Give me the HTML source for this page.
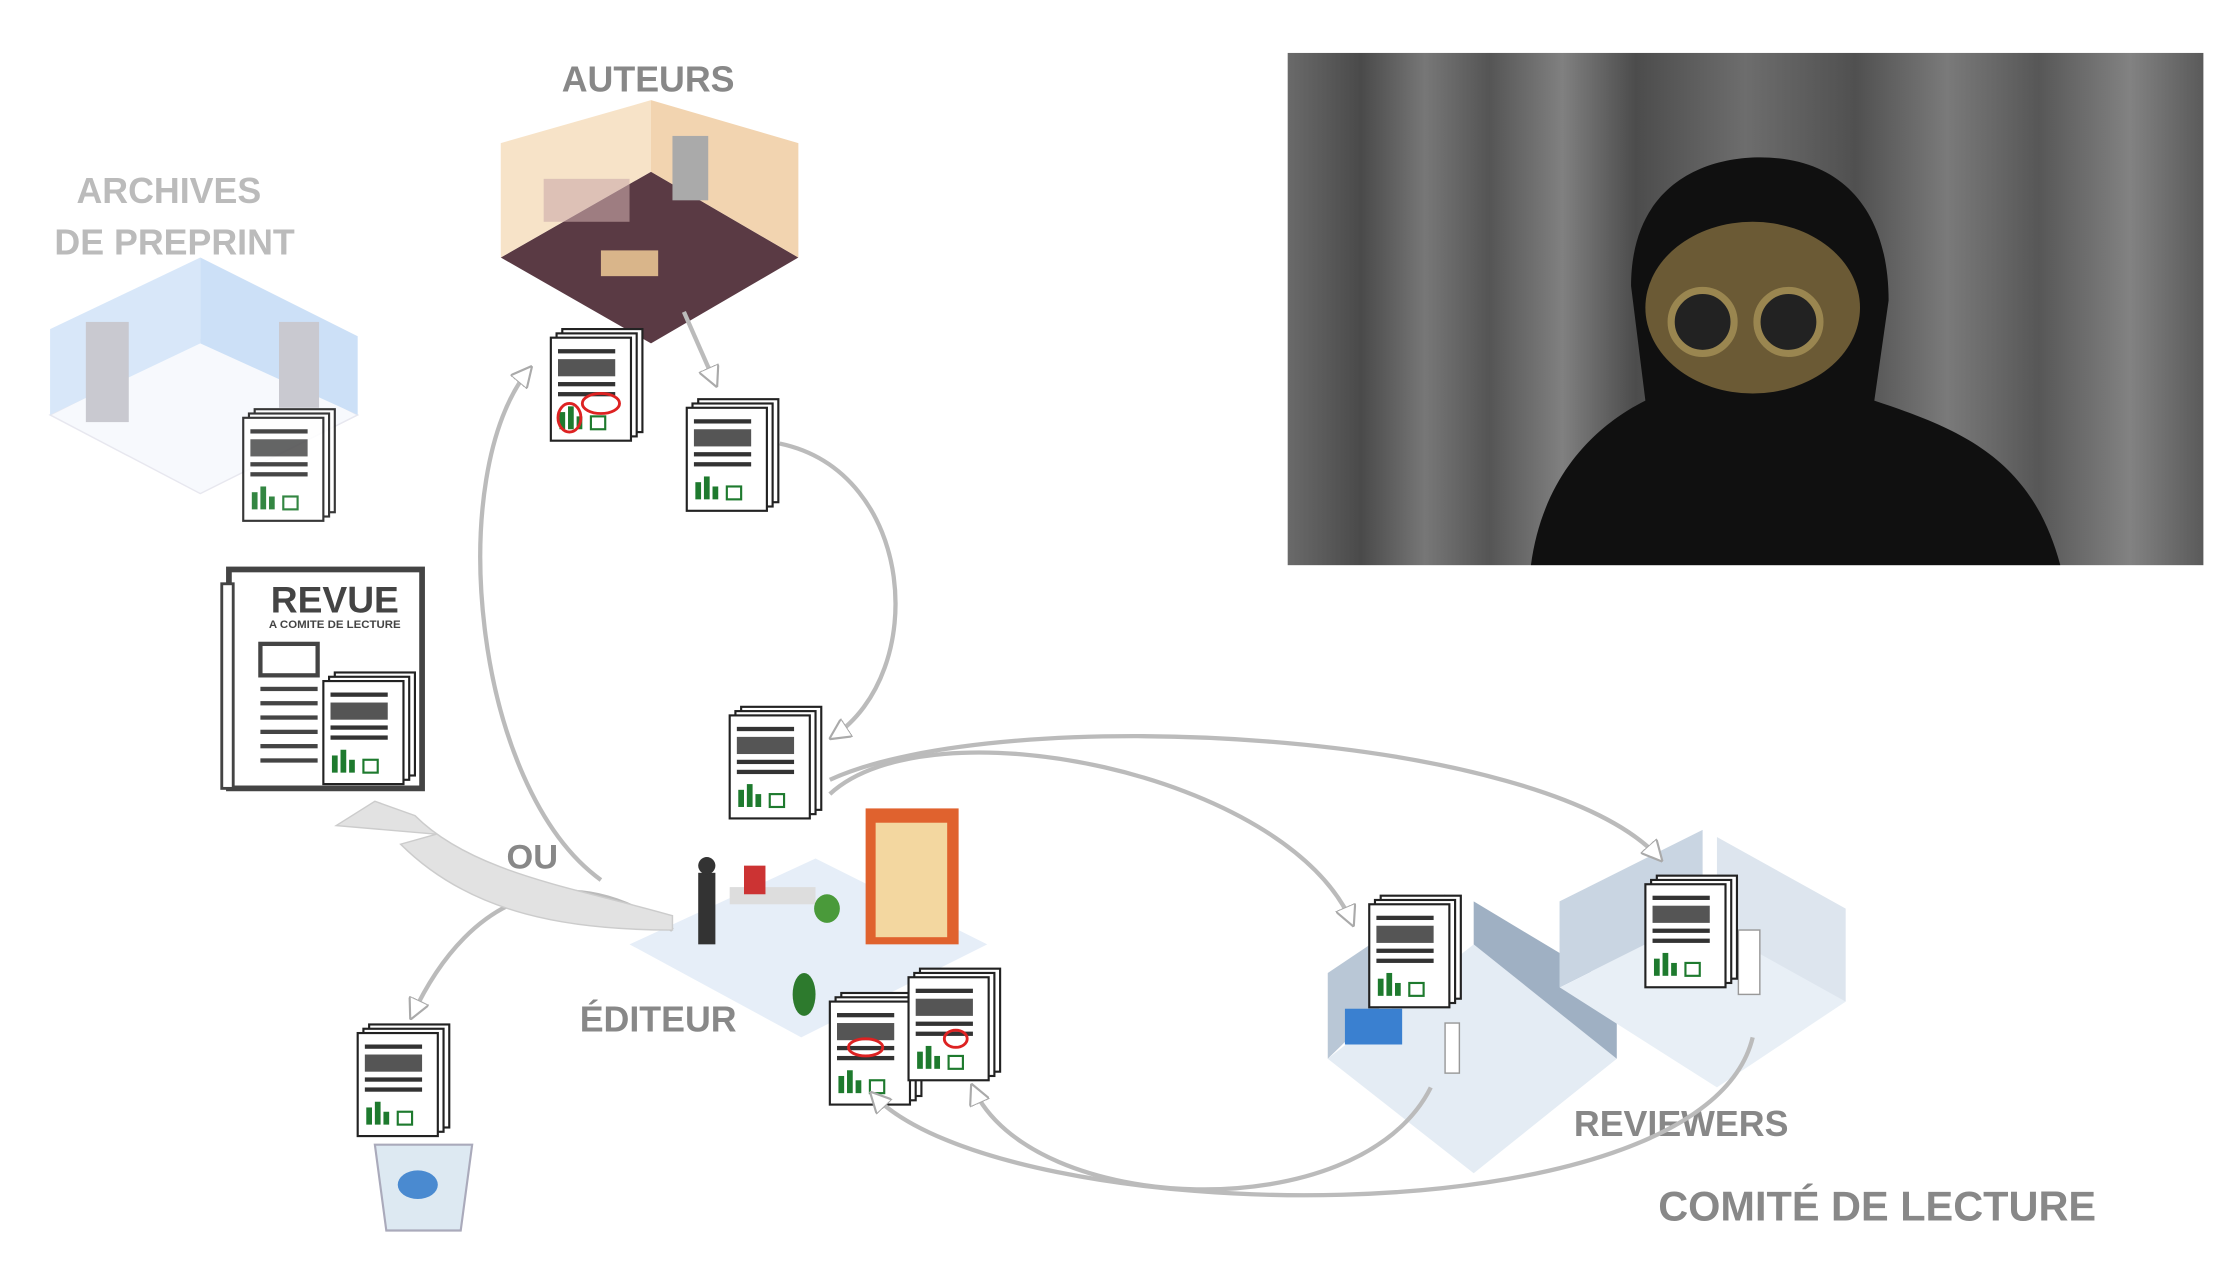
<!DOCTYPE html>
<html><head><meta charset="utf-8"><style>
html,body{margin:0;padding:0;background:#fff;width:2232px;height:1274px;overflow:hidden}
svg{display:block}
text{font-family:"Liberation Sans",sans-serif;font-weight:bold}
</style></head><body>
<svg width="2232" height="1274" viewBox="0 0 1560 890.4" preserveAspectRatio="none" xmlns="http://www.w3.org/2000/svg">
<defs>
<linearGradient id="wood" x1="0" x2="1" y1="0" y2="0">
<stop offset="0" stop-color="#6a6a6a"/><stop offset="0.08" stop-color="#4a4a4a"/><stop offset="0.15" stop-color="#777"/>
<stop offset="0.22" stop-color="#555"/><stop offset="0.3" stop-color="#808080"/><stop offset="0.38" stop-color="#4c4c4c"/>
<stop offset="0.5" stop-color="#6d6d6d"/><stop offset="0.62" stop-color="#505050"/><stop offset="0.72" stop-color="#7a7a7a"/>
<stop offset="0.82" stop-color="#575757"/><stop offset="0.92" stop-color="#828282"/><stop offset="1" stop-color="#5a5a5a"/>
</linearGradient>
<marker id="ah" viewBox="0 0 10 10" refX="8" refY="5" markerWidth="5" markerHeight="5" orient="auto">
<path d="M0,0 L10,5 L0,10 Z" fill="#fff" stroke="#aaa" stroke-width="1"/></marker>
<g id="doc">
<rect x="8" y="-6" width="56" height="72" fill="#fff" stroke="#222" stroke-width="1.5"/>
<rect x="4" y="-3" width="56" height="72" fill="#fff" stroke="#222" stroke-width="1.5"/>
<rect x="0" y="0" width="56" height="72" fill="#fff" stroke="#222" stroke-width="1.5"/>
<rect x="5" y="8" width="40" height="3" fill="#333"/><rect x="5" y="15" width="40" height="12" fill="#555"/>
<rect x="5" y="31" width="40" height="3" fill="#333"/><rect x="5" y="38" width="40" height="3" fill="#333"/>
<rect x="6" y="52" width="4" height="12" fill="#1e7a2e"/><rect x="12" y="48" width="4" height="16" fill="#1e7a2e"/><rect x="18" y="55" width="4" height="9" fill="#1e7a2e"/>
<rect x="28" y="55" width="10" height="9" fill="none" stroke="#1e7a2e" stroke-width="1.5"/>
</g>
</defs>

<!-- photo -->
<rect x="900" y="37" width="640" height="358" fill="url(#wood)"/>
<path d="M1070,395 C1080,320 1130,290 1150,280 L1140,200 C1140,130 1190,110 1230,110 C1290,110 1320,150 1320,210 L1310,280 C1370,300 1420,320 1440,395 Z" fill="#101010"/>
<ellipse cx="1225" cy="215" rx="75" ry="60" fill="#6b5a35"/>
<circle cx="1190" cy="225" r="22" fill="#222" stroke="#9a8650" stroke-width="5"/>
<circle cx="1250" cy="225" r="22" fill="#222" stroke="#9a8650" stroke-width="5"/>

<!-- titles -->
<text x="453" y="64" font-size="25" fill="#888" text-anchor="middle">AUTEURS</text>
<text x="118" y="142" font-size="25" fill="#bbb" text-anchor="middle">ARCHIVES</text>
<text x="122" y="178" font-size="25" fill="#bbb" text-anchor="middle">DE PREPRINT</text>
<text x="372" y="607" font-size="24" fill="#888" text-anchor="middle">OU</text>
<text x="460" y="721" font-size="25" fill="#888" text-anchor="middle">ÉDITEUR</text>
<text x="1175" y="794" font-size="25" fill="#888" text-anchor="middle">REVIEWERS</text>
<text x="1312" y="853" font-size="29" fill="#888" text-anchor="middle">COMITÉ DE LECTURE</text>

<!-- archive room -->
<g opacity="0.45">
<path d="M35,290 L140,345 L250,290 L145,235 Z" fill="#eef3fb" stroke="#ccd"/>
<path d="M35,290 L35,230 L140,180 L140,240 Z" fill="#a9ccf2"/>
<path d="M140,180 L250,235 L250,290 L140,240 Z" fill="#8fbbee"/>
<rect x="60" y="225" width="30" height="70" fill="#889"/><rect x="195" y="225" width="28" height="60" fill="#889"/>
</g>
<use href="#doc" x="170" y="292" transform="scale(1)" opacity="0.9"/>

<!-- authors lab -->
<path d="M350,180 L455,240 L558,180 L455,120 Z" fill="#5a3a44"/>
<path d="M350,180 L350,100 L455,70 L455,120 Z" fill="#f7e3c8"/>
<path d="M455,70 L558,100 L558,180 L455,120 Z" fill="#f2d4b0"/>
<rect x="380" y="125" width="60" height="30" fill="#caa" opacity="0.6"/><rect x="470" y="95" width="25" height="45" fill="#aaa"/>
<rect x="420" y="175" width="40" height="18" fill="#d9b58a"/>

<use href="#doc" x="385" y="236"/>
<ellipse cx="420" cy="282" rx="13" ry="7" fill="none" stroke="#d22" stroke-width="2"/>
<ellipse cx="398" cy="292" rx="8" ry="10" fill="none" stroke="#d22" stroke-width="2"/>
<use href="#doc" x="480" y="285"/>

<!-- revue -->
<rect x="160" y="398" width="135" height="153" fill="#fff" stroke="#444" stroke-width="4"/>
<rect x="155" y="408" width="8" height="143" fill="#fff" stroke="#444" stroke-width="2"/>
<text x="234" y="428" font-size="26" fill="#444" text-anchor="middle" font-weight="normal">REVUE</text>
<text x="234" y="439" font-size="8" fill="#444" text-anchor="middle" font-weight="normal">A COMITE DE LECTURE</text>
<rect x="182" y="450" width="40" height="22" fill="none" stroke="#444" stroke-width="3"/>
<rect x="182" y="480" width="40" height="3" fill="#444"/><rect x="182" y="490" width="40" height="3" fill="#444"/>
<rect x="182" y="500" width="40" height="3" fill="#444"/><rect x="182" y="510" width="40" height="3" fill="#444"/>
<rect x="182" y="520" width="40" height="3" fill="#444"/><rect x="182" y="530" width="40" height="3" fill="#444"/>
<use href="#doc" x="226" y="476"/>

<!-- editor -->
<use href="#doc" x="510" y="500"/>
<path d="M440,660 L560,725 L690,660 L570,600 Z" fill="#e6eef8"/>
<rect x="605" y="565" width="65" height="95" fill="#e0622e"/>
<rect x="612" y="575" width="50" height="80" fill="#f3d7a0"/>
<rect x="510" y="620" width="60" height="12" fill="#ddd"/>
<rect x="488" y="610" width="12" height="50" fill="#333"/><circle cx="494" cy="605" r="6" fill="#333"/>
<rect x="520" y="605" width="15" height="20" fill="#c33"/>
<ellipse cx="562" cy="695" rx="8" ry="15" fill="#2d7a2d"/><ellipse cx="578" cy="635" rx="9" ry="10" fill="#4a9a3a"/>
<use href="#doc" x="580" y="700"/>
<use href="#doc" x="635" y="683"/>
<ellipse cx="605" cy="732" rx="12" ry="6" fill="none" stroke="#d22" stroke-width="2"/>
<ellipse cx="668" cy="726" rx="8" ry="6" fill="none" stroke="#d22" stroke-width="2"/>

<!-- trash -->
<use href="#doc" x="250" y="722"/>
<path d="M262,800 L330,800 L322,860 L270,860 Z" fill="#dde9f2" stroke="#aab" stroke-width="1.5"/>
<ellipse cx="292" cy="828" rx="14" ry="10" fill="#4a8ad0"/>

<!-- reviewers -->
<path d="M928,740 L1030,820 L1130,740 L1030,660 Z" fill="#e4ecf4"/>
<path d="M928,740 L928,680 L1010,625 L1010,660 Z" fill="#b9c7d6"/>
<path d="M1030,630 L1130,690 L1130,740 L1030,660 Z" fill="#9fb0c3"/>
<path d="M1090,690 L1200,760 L1290,700 L1190,640 Z" fill="#e8eff6"/>
<path d="M1090,690 L1090,630 L1190,580 L1190,640 Z" fill="#c9d5e2"/>
<path d="M1200,585 L1290,635 L1290,700 L1200,650 Z" fill="#dde5ee"/>
<rect x="940" y="705" width="40" height="25" fill="#3a80d0"/>
<rect x="1010" y="715" width="10" height="35" fill="#fff" stroke="#999"/>
<rect x="1215" y="650" width="15" height="45" fill="#fff" stroke="#999"/>
<use href="#doc" x="957" y="632"/>
<use href="#doc" x="1150" y="618"/>

<!-- arrows -->
<g fill="none" stroke="#bbb" stroke-width="2">
<path d="M478,218 L500,268" marker-end="url(#ah)" stroke-width="3"/>
<path d="M545,310 C640,330 650,470 582,515" marker-end="url(#ah)" stroke-width="3"/>
<path d="M420,615 C330,550 310,330 370,258" marker-end="url(#ah)" stroke-width="3"/>
<path d="M580,555 C650,490 900,540 945,645" marker-end="url(#ah)" stroke-width="3"/>
<path d="M580,545 C700,490 1080,510 1160,600" marker-end="url(#ah)" stroke-width="3"/>
<path d="M1000,760 C950,860 720,850 680,760" marker-end="url(#ah)" stroke-width="3"/>
<path d="M1225,725 C1190,870 700,860 610,765" marker-end="url(#ah)" stroke-width="3"/>
<path d="M470,650 C400,600 330,620 288,710" marker-end="url(#ah)" stroke-width="3"/>
</g>
<path d="M470,650 C400,650 330,640 280,590 L305,583 L235,577 L262,560 L290,570 C330,610 400,620 470,640 Z" fill="#e2e2e2" stroke="#ccc"/>
</svg>
</body></html>
